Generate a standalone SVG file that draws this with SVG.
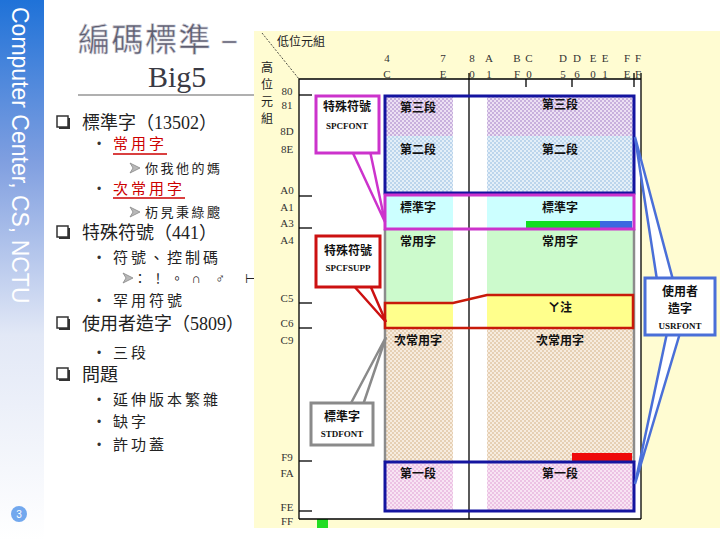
<svg xmlns="http://www.w3.org/2000/svg" width="720" height="540" viewBox="0 0 720 540">
<defs>
<linearGradient id="side" x1="0" y1="0" x2="0" y2="1">
<stop offset="0" stop-color="#1f72d8"/>
<stop offset="0.3" stop-color="#809fe0"/>
<stop offset="0.62" stop-color="#e2e8f6"/>
<stop offset="1" stop-color="#ffffff"/>
</linearGradient>
<pattern id="pPurple" width="4" height="4" patternUnits="userSpaceOnUse"><rect width="4" height="4" fill="#ece0f3"/><rect width="2" height="2" fill="#c8b0dd"/><rect x="2" y="2" width="2" height="2" fill="#c8b0dd"/></pattern>
<pattern id="pBlue" width="4" height="4" patternUnits="userSpaceOnUse"><rect width="4" height="4" fill="#e4eff8"/><rect width="2" height="2" fill="#bcd5ec"/><rect x="2" y="2" width="2" height="2" fill="#bcd5ec"/></pattern>
<pattern id="pTan" width="4" height="4" patternUnits="userSpaceOnUse"><rect width="4" height="4" fill="#f7ecdf"/><rect width="2" height="2" fill="#e6d0b4"/><rect x="2" y="2" width="2" height="2" fill="#e6d0b4"/></pattern>
<pattern id="pPink" width="4" height="4" patternUnits="userSpaceOnUse"><rect width="4" height="4" fill="#f8e4f3"/><rect width="2" height="2" fill="#ecc2e4"/><rect x="2" y="2" width="2" height="2" fill="#ecc2e4"/></pattern>
<style>
.cjk{font-family:'Liberation Serif','Noto Sans CJK TC',serif;}
.l1{font-size:18px;fill:#222;}
.l2{font-size:15px;fill:#222;letter-spacing:3px;}
.l3{font-size:13px;fill:#222;letter-spacing:2.5px;}
.red{fill:#cc0000;}
.bul{font-family:'Liberation Sans',sans-serif;font-size:12px;fill:#333;}
.arr{fill:#b8b8b8;stroke:#888;stroke-width:0.8;}
.hdr{font-family:'Liberation Serif',serif;font-size:11px;fill:#333;text-anchor:middle;}
.lab{font-family:'Noto Sans CJK TC',sans-serif;font-size:12px;font-weight:bold;fill:#111;text-anchor:middle;}
.sub{font-family:'Liberation Serif',serif;font-size:9px;font-weight:bold;fill:#111;text-anchor:middle;}
.frame{stroke:#000;stroke-width:1.3;fill:none;}
.box{fill:#fff;stroke-width:3;}
.tail{fill:#fff;stroke-width:2.5;stroke-linejoin:miter;}
</style>
</defs>

<!-- sidebar -->
<g id="sidebar">
<rect x="0" y="0" width="44" height="540" fill="url(#side)"/>
<text transform="translate(12,7) rotate(90)" font-family="'Liberation Sans',sans-serif" font-size="23" fill="#ffffff">Computer Center, CS, NCTU</text>
<circle cx="19" cy="514" r="8" fill="#72a8ee"/>
<text x="19" y="518" font-family="'Liberation Sans',sans-serif" font-size="10" fill="#fff" text-anchor="middle">3</text>
</g>

<!-- title -->
<g id="title">
<text x="78" y="51" font-family="'Noto Sans CJK TC',sans-serif" font-size="32" letter-spacing="1.5" fill="#5e5e70" stroke="#c8c8d4" stroke-width="0.6">編碼標準 –</text>
<text x="148" y="87" font-family="'Liberation Serif',serif" font-size="30" fill="#3a3a44">Big5</text>
<line x1="78" y1="95" x2="255" y2="95" stroke="#b0b0b0" stroke-width="2"/>
</g>

<!-- bullet list -->
<g id="list">
<rect x="59" y="118" width="11" height="11" fill="#333"/><rect x="57" y="116" width="11" height="11" fill="#fff" stroke="#333" stroke-width="1.5"/>
<text x="82" y="129" class="cjk l1">標準字（13502）</text>
<text x="97" y="148" class="bul">•</text>
<text x="113" y="149" class="cjk l2 red">常用字</text>
<line x1="113" y1="154" x2="167" y2="154" stroke="#cc0000" stroke-width="1.5"/>
<polygon class="arr" points="130,163 140,168 130,173 133,168"/>
<text x="145" y="173" class="cjk l3">你我他的媽</text>
<text x="97" y="193" class="bul">•</text>
<text x="113" y="194" class="cjk l2 red">次常用字</text>
<line x1="113" y1="198" x2="185" y2="198" stroke="#cc0000" stroke-width="1.5"/>
<polygon class="arr" points="130,207 140,212 130,217 133,212"/>
<text x="145" y="217" class="cjk l3">杤旯秉綠颼</text>
<rect x="59" y="228" width="11" height="11" fill="#333"/><rect x="57" y="226" width="11" height="11" fill="#fff" stroke="#333" stroke-width="1.5"/>
<text x="82" y="239" class="cjk l1">特殊符號（441）</text>
<text x="97" y="262" class="bul">•</text>
<text x="113" y="263" class="cjk l2">符號、控制碼</text>
<polygon class="arr" points="123,273 133,278 123,283 126,278"/>
<g class="cjk" font-size="13" fill="#222" text-anchor="middle">
<text x="140" y="283">：</text><text x="158" y="283">！</text><text x="177" y="283">。</text><text x="196" y="283">∩</text><text x="220" y="283">♂</text><text x="250" y="283">⊢</text>
</g>
<text x="97" y="305" class="bul">•</text>
<text x="113" y="306" class="cjk l2">罕用符號</text>
<rect x="59" y="319" width="11" height="11" fill="#333"/><rect x="57" y="317" width="11" height="11" fill="#fff" stroke="#333" stroke-width="1.5"/>
<text x="82" y="330" class="cjk l1">使用者造字（5809）</text>
<text x="97" y="357" class="bul">•</text>
<text x="113" y="358" class="cjk l2">三段</text>
<rect x="59" y="370" width="11" height="11" fill="#333"/><rect x="57" y="368" width="11" height="11" fill="#fff" stroke="#333" stroke-width="1.5"/>
<text x="82" y="381" class="cjk l1">問題</text>
<text x="97" y="404" class="bul">•</text>
<text x="113" y="405" class="cjk l2">延伸版本繁雜</text>
<text x="97" y="426" class="bul">•</text>
<text x="113" y="427" class="cjk l2">缺字</text>
<text x="97" y="449" class="bul">•</text>
<text x="113" y="450" class="cjk l2">許功蓋</text>
</g>

<!-- chart panel -->
<g id="panel">
<rect x="254" y="31" width="466" height="497" fill="#fffcd2"/>
<rect x="299" y="79" width="342" height="440" fill="#ffffff"/>
</g>

<!-- axis labels -->
<g id="axes">
<line x1="262" y1="33" x2="299" y2="79" stroke="#222" stroke-width="0.8" stroke-dasharray="2,1.5"/>
<text x="277" y="46" font-family="'Noto Sans CJK TC',sans-serif" font-size="12" fill="#222">低位元組</text>
<g font-family="'Noto Sans CJK TC',sans-serif" font-size="12" fill="#222" text-anchor="middle">
<text x="267" y="72">高</text><text x="267" y="89">位</text><text x="267" y="106">元</text><text x="267" y="123">組</text>
</g>
<g class="hdr">
<text x="387" y="62">4</text><text x="387" y="78">C</text>
<text x="443" y="62">7</text><text x="443" y="78">E</text>
<text x="472" y="62">8</text><text x="472" y="78">0</text>
<text x="489" y="62">A</text><text x="489" y="78">1</text>
<text x="517" y="62">B</text><text x="517" y="78">F</text>
<text x="529" y="62">C</text><text x="529" y="78">0</text>
<text x="563" y="62">D</text><text x="563" y="78">5</text>
<text x="577" y="62">D</text><text x="577" y="78">6</text>
<text x="593" y="62">E</text><text x="593" y="78">0</text>
<text x="605" y="62">E</text><text x="605" y="78">1</text>
<text x="627" y="62">F</text><text x="627" y="78">E</text>
<text x="638" y="62">F</text><text x="638" y="78">F</text>
</g>
<g class="hdr">
<text x="287" y="95">80</text><text x="287" y="109">81</text>
<text x="287" y="135">8D</text><text x="287" y="153">8E</text>
<text x="287" y="194">A0</text><text x="287" y="211">A1</text>
<text x="287" y="227">A3</text><text x="287" y="244">A4</text>
<text x="287" y="302">C5</text><text x="287" y="327">C6</text>
<text x="287" y="344">C9</text><text x="287" y="461">F9</text>
<text x="287" y="477">FA</text><text x="287" y="511">FE</text>
<text x="287" y="525">FF</text>
</g>
</g>

<!-- code regions -->
<g id="regions">
<rect x="385" y="97" width="68" height="39" fill="url(#pPurple)"/>
<rect x="487" y="97" width="147" height="39" fill="url(#pPurple)"/>
<rect x="385" y="136" width="68" height="57" fill="url(#pBlue)"/>
<rect x="487" y="136" width="147" height="57" fill="url(#pBlue)"/>
<rect x="385" y="195" width="68" height="34" fill="#ccffff"/>
<rect x="487" y="195" width="147" height="34" fill="#ccffff"/>
<rect x="385" y="229" width="68" height="74" fill="#ccfacc"/>
<rect x="487" y="229" width="147" height="66" fill="#ccfacc"/>
<rect x="385" y="303" width="68" height="25" fill="#ffff8c"/>
<rect x="487" y="295" width="147" height="33" fill="#ffff8c"/>
<rect x="385" y="328" width="68" height="133" fill="url(#pTan)"/>
<rect x="487" y="328" width="147" height="133" fill="url(#pTan)"/>
<rect x="385" y="462" width="68" height="49" fill="url(#pPink)"/>
<rect x="487" y="462" width="147" height="49" fill="url(#pPink)"/>
<rect x="526" y="221" width="74" height="7" fill="#11dd22"/>
<rect x="600" y="221" width="32" height="7" fill="#3a68e0"/>
<rect x="572" y="453" width="60" height="8" fill="#ee0a0a"/>
<rect x="317" y="519" width="11" height="9" fill="#22dd22"/>
</g>

<!-- frame -->
<g id="frame" class="frame">
<polyline points="299,519 299,79 641,79"/>
<line x1="641" y1="73" x2="641" y2="519"/>
<line x1="299" y1="519" x2="641" y2="519"/>
<line x1="469" y1="73" x2="469" y2="519"/>
<line x1="526" y1="79" x2="526" y2="87"/>
<line x1="572" y1="79" x2="572" y2="87"/>
<line x1="634" y1="73" x2="634" y2="87"/>
<line x1="299" y1="95" x2="312" y2="95"/>
<line x1="299" y1="196" x2="312" y2="196"/>
<line x1="299" y1="228" x2="312" y2="228"/>
<line x1="299" y1="303" x2="312" y2="303"/>
<line x1="299" y1="328" x2="312" y2="328"/>
<line x1="299" y1="461" x2="312" y2="461"/>
<line x1="299" y1="511" x2="312" y2="511"/>
</g>

<!-- outlines -->
<g id="outlines" fill="none">
<line x1="385" y1="229" x2="385" y2="462" stroke="#8c8c8c" stroke-width="2.5"/>
<line x1="634" y1="229" x2="634" y2="462" stroke="#8c8c8c" stroke-width="2.5"/>
<rect x="385" y="96" width="249" height="97" stroke="#1414a0" stroke-width="3"/>
<rect x="385" y="195" width="249" height="34" stroke="#cc33cc" stroke-width="3"/>
<polygon points="385,303 453,303 487,295 633,295 633,328 385,328" stroke="#c81a0a" stroke-width="2.5"/>
<rect x="385" y="462" width="249" height="49" stroke="#1414a0" stroke-width="3"/>
</g>

<!-- region labels -->
<g id="labels" class="lab">
<text x="418" y="112">第三段</text><text x="560" y="109">第三段</text>
<text x="418" y="154">第二段</text><text x="560" y="154">第二段</text>
<text x="418" y="212">標準字</text><text x="560" y="212">標準字</text>
<text x="418" y="246">常用字</text><text x="560" y="246">常用字</text>
<text x="560" y="312">ㄚ注</text>
<text x="418" y="345">次常用字</text><text x="560" y="345">次常用字</text>
<text x="418" y="478">第一段</text><text x="560" y="478">第一段</text>
</g>

<!-- callouts -->
<g id="connectors">
<polygon class="tail" points="352,151 385,222 370,151" stroke="#cc33cc"/>
<polygon class="tail" points="353,285 386,322 370,285" stroke="#cc1111"/>
<polygon class="tail" points="350,405 386,337 363,405" stroke="#8a8a8a"/>
<polygon class="tail" points="657,280 635,137 673,280" stroke="#4a6fd8"/>
<polygon class="tail" points="667,333 635,484 680,333" stroke="#4a6fd8"/>
</g>
<g id="spcfont">
<rect class="box" x="316" y="96" width="63" height="57" stroke="#cc33cc"/>
<text class="lab" x="347" y="111">特殊符號</text>
<text class="sub" x="347" y="129">SPCFONT</text>
</g>
<g id="spcfsupp">
<rect class="box" x="316" y="236" width="64" height="51" stroke="#cc1111"/>
<text class="lab" x="348" y="255">特殊符號</text>
<text class="sub" x="348" y="271">SPCFSUPP</text>
</g>
<g id="stdfont">
<rect class="box" x="311" y="403" width="62" height="42" stroke="#8a8a8a"/>
<text class="lab" x="342" y="421">標準字</text>
<text class="sub" x="342" y="437">STDFONT</text>
</g>
<g id="usrfont">
<rect class="box" x="645" y="278" width="70" height="57" stroke="#4a6fd8"/>
<text class="lab" x="680" y="296">使用者</text>
<text class="lab" x="680" y="313">造字</text>
<text class="sub" x="680" y="329">USRFONT</text>
</g>
</svg>
